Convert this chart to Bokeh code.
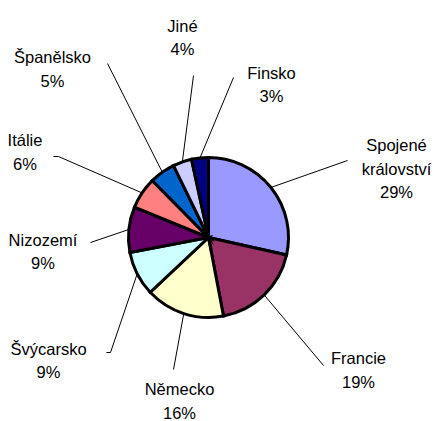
import math
from bokeh.plotting import figure
from bokeh.models import Range1d, ColumnDataSource
from bokeh.core.properties import value
from bokeh.embed import file_html
from bokeh.resources import INLINE

# ---- data ----
countries = ["Spojené království", "Francie", "Německo", "Švýcarsko", "Nizozemí",
             "Itálie", "Španělsko", "Jiné", "Finsko"]
shares = [28.5, 18.5, 16.0, 9.0, 9.2, 6.4, 5.2, 3.8, 3.4]
colors = ["#9999FF", "#993366", "#FFFFCC", "#CCFFFF", "#660066",
          "#FF8080", "#0066CC", "#CCCCFF", "#000080"]

# ---- layout (reference pixel space, y grows downward) ----
W_REF, H_REF = 434, 421
CX, CY, R = 208, 237, 80
label_centers = [(396, 162.5), (358, 363.8), (179, 394.5), (48, 354.2), (42.5, 245),
                 (24.5, 145.8), (52, 62.5), (182, 31.2), (271, 78.3)]
leader_ends = [[(347, 160)], [(323, 365)], [(173, 369)], [(110, 352), (106, 352)],
               [(90, 242)], [(58, 156), (53, 156)], [(107, 63)], [(193, 75)], [(233, 77)]]
LINE_STEP = 23.5
FONT_PX = 16.5
CAP = 0.716 * FONT_PX
FONT = value("Liberation Sans")


def fy(y):
    return H_REF - y


p = figure(width=W_REF, height=H_REF, output_backend="svg", toolbar_location=None,
           x_range=Range1d(0, W_REF), y_range=Range1d(0, H_REF), min_border=0)
p.axis.visible = False
p.grid.visible = False
p.outline_line_color = None
p.background_fill_color = "white"
p.border_fill_color = "white"

total = sum(shares)
starts, ends, mids = [], [], []
cum = 0.0
for v in shares:
    a0 = cum / total
    cum += v
    a1 = cum / total
    starts.append(math.pi / 2 - 2 * math.pi * a0)
    ends.append(math.pi / 2 - 2 * math.pi * a1)
    mids.append(2 * math.pi * (a0 + a1) / 2)  # clockwise from top

# leader lines
xs, ys = [], []
for m, pts in zip(mids, leader_ends):
    ax = CX + R * math.sin(m)
    ay = CY - R * math.cos(m)
    xs.append([ax] + [q[0] for q in pts])
    ys.append([fy(ay)] + [fy(q[1]) for q in pts])
p.multi_line(xs=xs, ys=ys, line_color="black", line_width=1)

src = ColumnDataSource(dict(start=starts, end=ends, color=colors))
p.wedge(x=CX, y=fy(CY), radius=R, start_angle="start", end_angle="end",
        direction="clock", fill_color="color", line_color="black", line_width=3,
        line_join="miter", source=src)

# labels
tx, ty, tt = [], [], []
for name, v, (cx, cy) in zip(countries, shares, label_centers):
    lines = name.split(" ") + [f"{int(v + 0.5)}%"]
    h = (len(lines) - 1) * LINE_STEP + CAP
    b1 = cy - h / 2 + CAP
    for i, t in enumerate(lines):
        tx.append(cx)
        ty.append(fy(b1 + i * LINE_STEP))
        tt.append(t)
p.text(x=tx, y=ty, text=tt, text_align="center", text_baseline="alphabetic",
       text_font=FONT, text_font_size=f"{FONT_PX}px", text_color="black")

open("out.html", "w").write(file_html(p, INLINE))
